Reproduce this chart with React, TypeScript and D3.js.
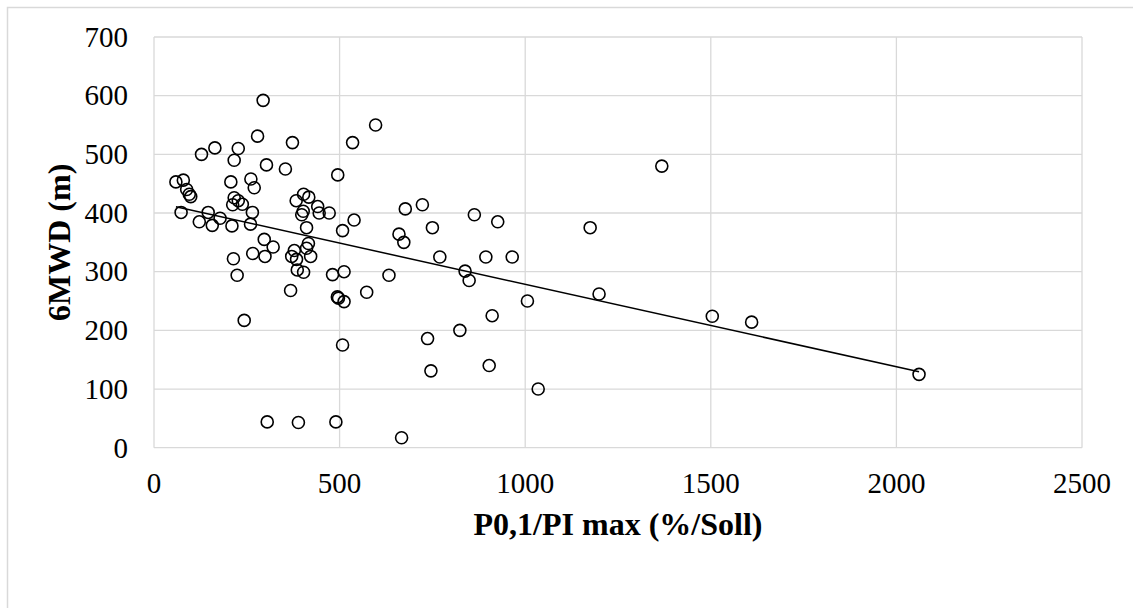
import React from "react";
import * as d3 from "d3";

// P0,1/PI max (%/Soll) values
const xValues: number[] = [
  294, 279, 373, 164, 128, 227, 216, 303, 354, 495,
  59, 79, 88, 95, 99, 207, 261, 270, 216, 212,
  227, 238, 265, 73, 146, 122, 157, 178, 210, 260,
  383, 403, 417, 398, 402, 441, 445, 472, 411, 416,
  411, 422, 371, 384, 378, 386, 403, 297, 321, 266,
  299, 214, 224, 481, 512, 597, 535, 539, 508, 677,
  723, 750, 660, 673, 863, 926, 770, 894, 965, 838,
  849, 633, 573, 494, 497, 512, 508, 737, 824, 911,
  1006, 746, 903, 490, 667, 368, 243, 305, 389, 1368,
  1175, 1199, 1504, 1610, 1035, 2061,
];
// 6MWD (m) values
const yValues: number[] = [
  592, 531, 520, 511, 500, 510, 490, 482, 475, 465,
  453, 456, 440, 432, 428, 453, 458, 443, 426, 414,
  421, 415, 401, 401, 401, 385, 379, 391, 378, 381,
  421, 432, 427, 397, 403, 411, 400, 400, 375, 348,
  340, 326, 326, 321, 336, 303, 299, 355, 342, 331,
  326, 322, 294, 295, 300, 550, 520, 388, 370, 407,
  414, 375, 364, 350, 397, 385, 325, 325, 325, 301,
  285, 294, 265, 257, 255, 249, 175, 186, 200, 225,
  250, 131, 140, 44, 17, 268, 217, 44, 43, 480,
  375, 262, 224, 214, 100, 125,
];

const xTicks: number[] = [0, 500, 1000, 1500, 2000, 2500];
const yTicks: number[] = [0, 100, 200, 300, 400, 500, 600, 700];

// linear trendline
const trendSlope = -0.1405;
const trendIntercept = 419;

const xTitle = "P0,1/PI max (%/Soll)";
const yTitle = "6MWD (m)";

const W = 1133;
const H = 608;
const plot = { left: 154, right: 1082, top: 37, bottom: 447.7 };
const FONT = "'Liberation Serif', 'Times New Roman', serif";
const GRID = "#d9d9d9";

export default function App() {
  const x = d3.scaleLinear().domain([0, 2500]).range([plot.left, plot.right]);
  const y = d3.scaleLinear().domain([0, 700]).range([plot.bottom, plot.top]);

  const points = xValues.map((v, i) => ({ x: v, y: yValues[i] }));
  const xMin = d3.min(xValues) as number;
  const xMax = d3.max(xValues) as number;
  const trend: [number, number][] = [
    [xMin, trendIntercept + trendSlope * xMin],
    [xMax, trendIntercept + trendSlope * xMax],
  ];
  const line = d3
    .line<[number, number]>()
    .x((d) => x(d[0]))
    .y((d) => y(d[1]));

  return (
    <svg
      width={W}
      height={H}
      style={{ position: "absolute", left: 0, top: 0, background: "#fff" }}
    >
      <rect x={0} y={0} width={W} height={H} fill="#fff" />
      <rect
        x={7.5}
        y={7.5}
        width={W + 20}
        height={H + 20}
        fill="none"
        stroke={GRID}
        strokeWidth={1.5}
      />
      {yTicks.map((t) => (
        <line
          key={"gy" + t}
          x1={plot.left}
          x2={plot.right}
          y1={y(t)}
          y2={y(t)}
          stroke={GRID}
          strokeWidth={1.3}
        />
      ))}
      {xTicks.map((t) => (
        <line
          key={"gx" + t}
          x1={x(t)}
          x2={x(t)}
          y1={plot.top}
          y2={plot.bottom}
          stroke={GRID}
          strokeWidth={1.3}
        />
      ))}
      {yTicks.map((t) => (
        <text
          key={"ty" + t}
          x={128}
          y={y(t) + 9.8}
          textAnchor="end"
          fontFamily={FONT}
          fontSize={29}
          fill="#000"
        >
          {t}
        </text>
      ))}
      {xTicks.map((t) => (
        <text
          key={"tx" + t}
          x={x(t)}
          y={493}
          textAnchor="middle"
          fontFamily={FONT}
          fontSize={29}
          fill="#000"
        >
          {t}
        </text>
      ))}
      <path d={line(trend) || ""} fill="none" stroke="#000" strokeWidth={1.5} />
      {points.map((p, i) => (
        <circle
          key={"p" + i}
          cx={x(p.x)}
          cy={y(p.y)}
          r={6}
          fill="none"
          stroke="#000"
          strokeWidth={1.6}
        />
      ))}
      <text
        x={(plot.left + plot.right) / 2}
        y={535}
        textAnchor="middle"
        fontFamily={FONT}
        fontSize={32}
        fontWeight="bold"
        fill="#000"
      >
        {xTitle}
      </text>
      <text
        transform={`translate(70, ${(plot.top + plot.bottom) / 2}) rotate(-90)`}
        textAnchor="middle"
        fontFamily={FONT}
        fontSize={32}
        fontWeight="bold"
        fill="#000"
      >
        {yTitle}
      </text>
    </svg>
  );
}
